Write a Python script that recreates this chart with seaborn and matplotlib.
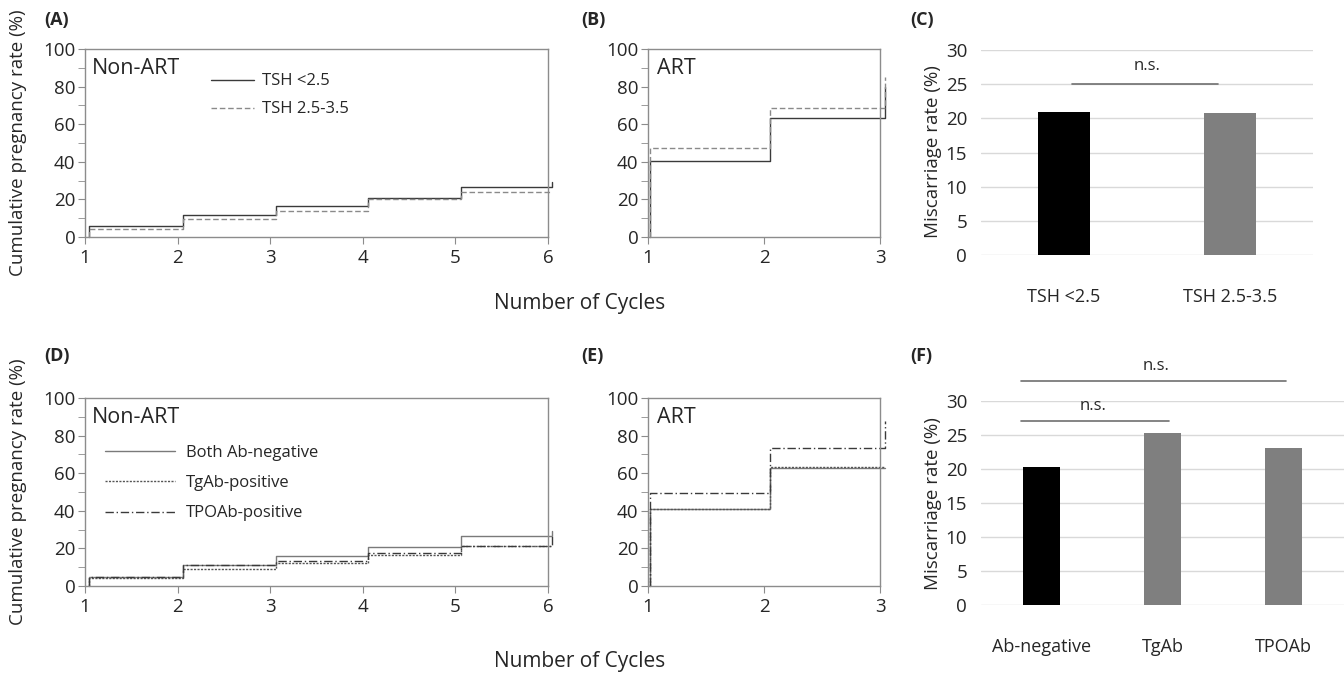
import numpy as np
import pandas as pd
import seaborn as sns
import matplotlib.pyplot as plt
from matplotlib.ticker import MultipleLocator

sns.set_style('white')
plt.rcParams['font.family'] = ['Open Sans', 'DejaVu Sans']

# ---------------------------------------------------------------------------
# data (cumulative pregnancy rate, %, step curves)
# ---------------------------------------------------------------------------
cycles_non_art = [1.04, 1.04, 2.06, 3.06, 4.06, 5.06, 6.04, 6.04]
tsh_low_non_art = [0, 6, 11.5, 16.5, 20.5, 26.5, 26.5, 29]
tsh_mid_non_art = [0, 4.5, 9.5, 14, 20, 24, 24, 24]

cycles_art = [1.02, 1.02, 2.05, 3.04, 3.04]
tsh_low_art = [0, 40.5, 63.5, 63.5, 80]
tsh_mid_art = [0, 47.5, 68.5, 68.5, 85]

ab_neg_non_art = [0, 5, 11, 16, 20.5, 26.5, 26.5, 29]
tgab_non_art = [0, 4.5, 9, 12, 16.5, 21.5, 21.5, 21.5]
tpoab_non_art = [0, 5, 11, 13.5, 17.5, 21.5, 21.5, 27]

ab_neg_art = [0, 41, 63, 63, 63]
tgab_art = [0, 41, 63.5, 63.5, 63.5]
tpoab_art = [0, 49.5, 73.5, 73.5, 88]

# miscarriage rates (%)
tsh_groups = ['TSH <2.5', 'TSH 2.5-3.5']
tsh_miscarriage = [21.0, 20.8]
ab_groups = ['Ab-negative', 'TgAb', 'TPOAb']
ab_miscarriage = [20.3, 25.3, 23.1]

W, H = 1344, 681
fig = plt.figure(figsize=(W / 100, H / 100), dpi=100)


def box(l, t, r, b):
    # pixel box -> figure fraction
    return [l / W, 1 - b / H, (r - l) / W, (b - t) / H]


spine_col = '#8c8c8c'
tick_fs = 13.5


def km_axes(ax, xmax):
    ax.set_xlim(1, xmax)
    ax.set_ylim(0, 100)
    ax.set_xticks(range(1, xmax + 1))
    ax.yaxis.set_major_locator(MultipleLocator(20))
    ax.yaxis.set_minor_locator(MultipleLocator(10))
    for s in ax.spines.values():
        s.set_color(spine_col)
        s.set_linewidth(1)
    ax.tick_params(which='both', direction='out', length=5, color=spine_col,
                   labelsize=tick_fs, left=True, bottom=True)
    ax.tick_params(axis='y', pad=2)
    ax.set_xlabel('')
    ax.set_ylabel('')


def step(ax, x, y, color, ls, label=None, lw=1.0):
    sns.lineplot(x=x, y=y, ax=ax, color=color, linestyle=ls, linewidth=lw,
                 drawstyle='steps-post', estimator=None, sort=False,
                 label=label, legend=False, clip_on=False)


solid_dark = '#3a3a3a'
dash_grey = '#8a8a8a'

# (A) Non-ART, TSH
axA = fig.add_axes(box(85, 49, 548, 237))
step(axA, cycles_non_art, tsh_low_non_art, solid_dark, '-', 'TSH <2.5')
step(axA, cycles_non_art, tsh_mid_non_art, dash_grey, (0, (4, 2)), 'TSH 2.5-3.5')
km_axes(axA, 6)
axA.text(0.015, 0.95, 'Non-ART', transform=axA.transAxes, fontsize=15.5, va='top')
axA.legend(loc='upper left', bbox_to_anchor=(0.272, 0.87), frameon=False,
           fontsize=12, handlelength=2.6, handletextpad=0.45, labelspacing=0.72,
           borderpad=0, borderaxespad=0)

# (B) ART, TSH
axB = fig.add_axes(box(648, 49, 880, 237))
step(axB, cycles_art, tsh_low_art, solid_dark, '-')
step(axB, cycles_art, tsh_mid_art, dash_grey, (0, (4, 2)))
km_axes(axB, 3)
axB.text(0.04, 0.95, 'ART', transform=axB.transAxes, fontsize=15.5, va='top')

# (D) Non-ART, antibodies
axD = fig.add_axes(box(85, 398, 548, 586))
step(axD, cycles_non_art, ab_neg_non_art, '#7a7a7a', '-', 'Both Ab-negative')
step(axD, cycles_non_art, tgab_non_art, '#555555', (0, (1.5, 1)), 'TgAb-positive')
step(axD, cycles_non_art, tpoab_non_art, '#3a3a3a', (0, (6, 2, 1, 2)), 'TPOAb-positive')
km_axes(axD, 6)
axD.text(0.015, 0.95, 'Non-ART', transform=axD.transAxes, fontsize=15.5, va='top')
axD.legend(loc='upper left', bbox_to_anchor=(0.043, 0.75), frameon=False,
           fontsize=12, handlelength=4.2, handletextpad=0.65, labelspacing=0.85,
           borderpad=0, borderaxespad=0)

# (E) ART, antibodies
axE = fig.add_axes(box(648, 398, 880, 586))
step(axE, cycles_art, ab_neg_art, '#7a7a7a', '-')
step(axE, cycles_art, tgab_art, '#555555', (0, (1.5, 1)))
step(axE, cycles_art, tpoab_art, '#3a3a3a', (0, (6, 2, 1, 2)))
km_axes(axE, 3)
axE.text(0.04, 0.95, 'ART', transform=axE.transAxes, fontsize=15.5, va='top')


def bar_axes(ax, groups, vals):
    colors = ['#000000'] + ['#7f7f7f'] * (len(groups) - 1)
    sns.barplot(x=groups, y=vals, hue=groups, palette=colors, width=0.31,
                saturation=1, ax=ax, legend=False, linewidth=0)
    ax.set_ylim(0, 30)
    ax.set_yticks(range(0, 31, 5))
    ax.yaxis.grid(True, color='#d9d9d9', linewidth=1)
    ax.set_axisbelow(True)
    sns.despine(ax=ax, left=True, bottom=True)
    ax.tick_params(length=0, labelsize=tick_fs)
    ax.tick_params(axis='x', pad=24, labelsize=13)
    ax.tick_params(axis='y', pad=10)
    ax.set_ylabel('')
    ax.set_xlabel('')


# (C) miscarriage, TSH
axC = fig.add_axes(box(981, 50, 1313, 255))
bar_axes(axC, tsh_groups, tsh_miscarriage)
axC.plot([0.05, 0.93], [25, 25], color='#707070', lw=1.2)
axC.text(0.5, 27.6, 'n.s.', ha='center', va='center', fontsize=12)
axC.set_xlim(-0.5, 1.5)

# (F) miscarriage, antibodies
axF = fig.add_axes(box(981, 401, 1344, 605))
bar_axes(axF, ab_groups, ab_miscarriage)
axF.plot([-0.17, 1.05], [27, 27], color='#707070', lw=1.2, clip_on=False)
axF.text(0.43, 29.3, 'n.s.', ha='center', va='center', fontsize=12)
axF.plot([-0.17, 2.02], [33, 33], color='#707070', lw=1.2, clip_on=False)
axF.text(0.95, 35.1, 'n.s.', ha='center', va='center', fontsize=12)
axF.set_xlim(-0.5, 2.5)

# labels
for lab, x, y in [('(A)', 44, 20), ('(B)', 581, 20), ('(C)', 910, 20),
                  ('(D)', 44, 356), ('(E)', 581, 356), ('(F)', 910, 356)]:
    fig.text(x / W, 1 - y / H, lab, fontsize=13, fontweight='bold', va='center')

fig.text(18 / W, 1 - 143 / H, 'Cumulative pregnancy rate (%)', rotation=90,
         fontsize=13.5, ha='center', va='center')
fig.text(18 / W, 1 - 492 / H, 'Cumulative pregnancy rate (%)', rotation=90,
         fontsize=13.5, ha='center', va='center')
fig.text(933 / W, 1 - 152 / H, 'Miscarriage rate (%)', rotation=90,
         fontsize=13.5, ha='center', va='center')
fig.text(933 / W, 1 - 504 / H, 'Miscarriage rate (%)', rotation=90,
         fontsize=13.5, ha='center', va='center')
fig.text(580 / W, 1 - 304 / H, 'Number of Cycles', fontsize=15,
         ha='center', va='center')
fig.text(580 / W, 1 - 662 / H, 'Number of Cycles', fontsize=15,
         ha='center', va='center')

fig.savefig('out.png', dpi=100, facecolor='white')
